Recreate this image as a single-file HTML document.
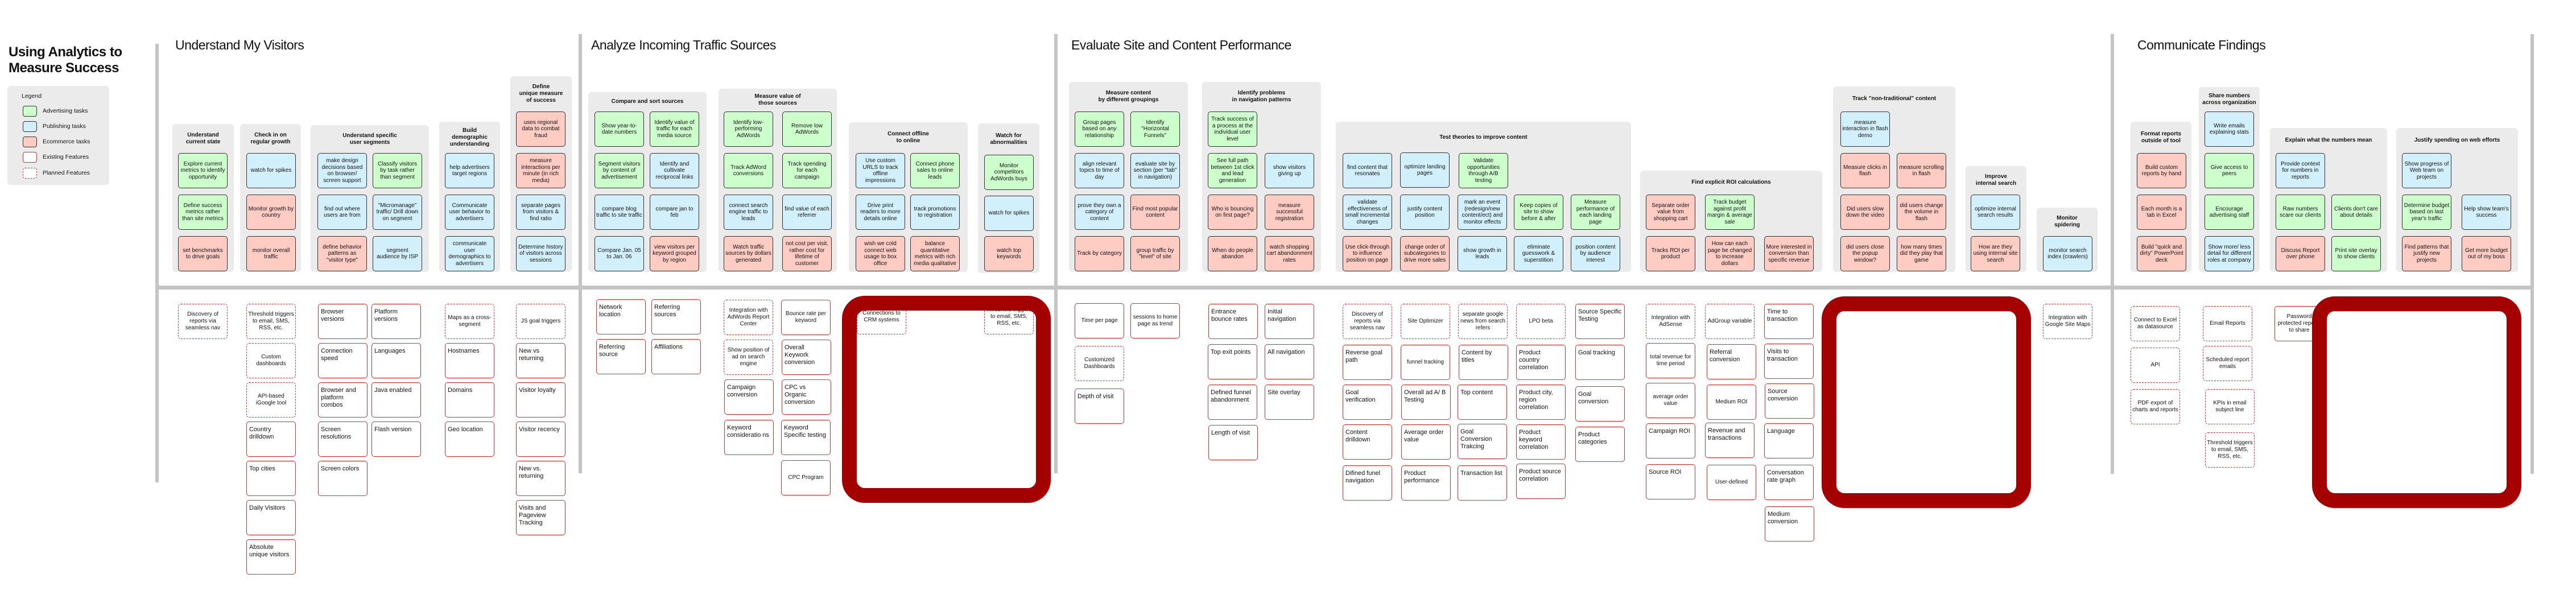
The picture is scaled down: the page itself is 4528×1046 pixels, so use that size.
<!DOCTYPE html>
<html><head><meta charset="utf-8">
<style>
*{box-sizing:border-box}
body{margin:0;width:4528px;height:1046px;background:#fff;position:relative;overflow:hidden;font-family:"Liberation Sans",sans-serif;color:#111}
.a{position:absolute}
.ln{position:absolute;background:#c4c4c4}
.st{position:absolute;font-size:23px;letter-spacing:-0.5px;top:66px;white-space:nowrap}
.gr{position:absolute;background:#ebebeb;border-radius:6px}
.gt{position:absolute;left:0;right:0;top:0;display:flex;align-items:center;justify-content:center;text-align:center;font-weight:bold;font-size:10px;line-height:12px;padding:0 3px}
.c{position:absolute;width:87px;height:62px;border:1.5px solid #333;border-radius:5px;display:flex;align-items:center;justify-content:center;text-align:center;font-size:10px;line-height:11.5px;padding:2px;overflow:hidden}
.G{background:#ccffcc}.B{background:#d2f0fc}.P{background:#ffccc4}
.e{position:absolute;width:87px;height:62px;border:1.5px solid #c33;border-radius:5px;background:#fff;font-size:11px;line-height:13px;padding:7px 4px;overflow:hidden}
.d{position:absolute;width:87px;height:62px;border:1.5px dashed #c33;border-radius:5px;background:#fff;font-size:10px;line-height:12px;padding:2px;display:flex;align-items:center;justify-content:center;text-align:center;overflow:hidden}
.ec{display:flex;align-items:center;justify-content:center;text-align:center;font-size:10px;line-height:12px;padding:2px}
.rb{position:absolute;border:26px solid #a50000;border-radius:40px;z-index:5}
.sw{position:absolute;left:40px;width:25px;height:19px;border:1.5px solid #333;border-radius:4px}
.lg{position:absolute;left:75px;font-size:10.5px}
</style></head><body>

<!-- left panel -->
<div class="a" style="left:15px;top:78px;font-size:24px;font-weight:bold;line-height:28px;letter-spacing:-0.5px">Using Analytics to<br>Measure Success</div>
<div class="gr" style="left:13px;top:151px;width:179px;height:174px"></div>
<div class="a" style="left:38px;top:163px;font-size:10.5px">Legend</div>
<div class="sw" style="top:186px;background:#ccffcc"></div><div class="lg" style="top:189px">Advertising tasks</div>
<div class="sw" style="top:213px;background:#d2f0fc"></div><div class="lg" style="top:216px">Publishing tasks</div>
<div class="sw" style="top:240px;background:#ffccc4"></div><div class="lg" style="top:243px">Ecommerce tasks</div>
<div class="sw" style="top:267px;background:#fff;border-color:#c33"></div><div class="lg" style="top:270px">Existing Features</div>
<div class="sw" style="top:295px;background:#fff;border:1.5px dashed #c33"></div><div class="lg" style="top:298px">Planned Features</div>

<!-- grid lines -->
<div class="ln" style="left:273px;top:77px;width:6px;height:771px"></div>
<div class="ln" style="left:1017px;top:60px;width:6px;height:772px"></div>
<div class="ln" style="left:1853px;top:60px;width:6px;height:772px"></div>
<div class="ln" style="left:3710px;top:60px;width:6px;height:773px"></div>
<div class="ln" style="left:4448px;top:60px;width:6px;height:773px"></div>
<div class="ln" style="left:276px;top:502px;width:4178px;height:7px"></div>

<!-- section titles -->
<div class="st" style="left:308px">Understand My Visitors</div>
<div class="st" style="left:1039px">Analyze Incoming Traffic Sources</div>
<div class="st" style="left:1883px">Evaluate Site and Content Performance</div>
<div class="st" style="left:3757px">Communicate Findings</div>

<!-- ===== Understand My Visitors ===== -->
<div class="gr" style="left:303px;top:218px;width:108px;height:260px"><div class="gt" style="height:51px">Understand<br>current state</div></div>
<div class="gr" style="left:422px;top:218px;width:107px;height:260px"><div class="gt" style="height:51px">Check in on<br>regular growth</div></div>
<div class="gr" style="left:546px;top:220px;width:208px;height:258px"><div class="gt" style="height:49px">Understand specific<br>user segments</div></div>
<div class="gr" style="left:772px;top:214px;width:107px;height:264px"><div class="gt" style="height:55px">Build<br>demographic<br>understanding</div></div>
<div class="gr" style="left:897px;top:134px;width:108px;height:344px"><div class="gt" style="height:62px">Define<br>unique measure<br>of success</div></div>

<div class="c G" style="left:313px;top:269px">Explore current metrics to identify opportunity</div>
<div class="c G" style="left:313px;top:342px">Define success metrics rather than site metrics</div>
<div class="c P" style="left:313px;top:415px">set benchmarks to drive goals</div>
<div class="c B" style="left:433px;top:269px">watch for spikes</div>
<div class="c P" style="left:433px;top:342px">Monitor growth by country</div>
<div class="c P" style="left:433px;top:415px">monitor overall traffic</div>
<div class="c B" style="left:558px;top:269px">make design decisions based on browser/ screen support</div>
<div class="c B" style="left:558px;top:342px">find out where users are from</div>
<div class="c P" style="left:558px;top:415px">define behavior patterns as "visitor type"</div>
<div class="c G" style="left:655px;top:269px">Classify visitors by task rather than segment</div>
<div class="c B" style="left:655px;top:342px">"Micromanage" traffic/ Drill down on segment</div>
<div class="c B" style="left:655px;top:415px">segment audience by ISP</div>
<div class="c B" style="left:782px;top:269px">help advertisers target regions</div>
<div class="c B" style="left:782px;top:342px">Communicate user behavior to advertisers</div>
<div class="c B" style="left:782px;top:415px">communicate user demographics to advertisers</div>
<div class="c P" style="left:907px;top:196px">uses regional data to combat fraud</div>
<div class="c P" style="left:907px;top:269px">measure interactions per minute (in rich media)</div>
<div class="c B" style="left:907px;top:342px">separate pages from visitors &amp; find ratio</div>
<div class="c B" style="left:907px;top:415px">Determine history of visitors across sessions</div>

<div class="d" style="left:313px;top:534px">Discovery of reports via seamless nav</div>
<div class="d" style="left:433px;top:534px">Threshold triggers to email, SMS, RSS, etc.</div>
<div class="d" style="left:433px;top:603px">Custom dashboards</div>
<div class="d" style="left:433px;top:672px">API-based iGoogle tool</div>
<div class="e" style="left:433px;top:741px">Country drilldown</div>
<div class="e" style="left:433px;top:810px">Top cities</div>
<div class="e" style="left:433px;top:879px">Daily Visitors</div>
<div class="e" style="left:433px;top:948px">Absolute unique visitors</div>
<div class="e" style="left:559px;top:534px">Browser versions</div>
<div class="e" style="left:559px;top:603px">Connection speed</div>
<div class="e" style="left:559px;top:672px">Browser and platform combos</div>
<div class="e" style="left:559px;top:741px">Screen resolutions</div>
<div class="e" style="left:559px;top:810px">Screen colors</div>
<div class="e" style="left:653px;top:534px">Platform versions</div>
<div class="e" style="left:653px;top:603px">Languages</div>
<div class="e" style="left:653px;top:672px">Java enabled</div>
<div class="e" style="left:653px;top:741px">Flash version</div>
<div class="d" style="left:782px;top:534px">Maps as a cross-segment</div>
<div class="e" style="left:782px;top:603px">Hostnames</div>
<div class="e" style="left:782px;top:672px">Domains</div>
<div class="e" style="left:782px;top:741px">Geo location</div>
<div class="d" style="left:907px;top:534px">JS goal triggers</div>
<div class="e" style="left:907px;top:603px">New vs returning</div>
<div class="e" style="left:907px;top:672px">Visitor loyalty</div>
<div class="e" style="left:907px;top:741px">Visitor recency</div>
<div class="e" style="left:907px;top:810px">New vs. returning</div>
<div class="e" style="left:907px;top:879px">Visits and Pageview Tracking</div>

<!-- ===== Analyze Incoming Traffic Sources ===== -->
<div class="gr" style="left:1034px;top:162px;width:208px;height:316px"><div class="gt" style="height:34px">Compare and sort sources</div></div>
<div class="gr" style="left:1263px;top:156px;width:208px;height:322px"><div class="gt" style="height:40px">Measure value of<br>those sources</div></div>
<div class="gr" style="left:1492px;top:215px;width:209px;height:263px"><div class="gt" style="height:54px">Connect offline<br>to online</div></div>
<div class="gr" style="left:1719px;top:217px;width:108px;height:263px"><div class="gt" style="height:55px">Watch for<br>abnormalities</div></div>

<div class="c G" style="left:1045px;top:196px">Show year-to-date numbers</div>
<div class="c G" style="left:1142px;top:196px">Identify value of traffic for each media source</div>
<div class="c G" style="left:1045px;top:269px">Segment visitors by content of advertisement</div>
<div class="c B" style="left:1142px;top:269px">Identify and cultivate reciprocal links</div>
<div class="c B" style="left:1045px;top:342px">compare blog traffic to site traffic</div>
<div class="c B" style="left:1142px;top:342px">compare jan to feb</div>
<div class="c B" style="left:1045px;top:415px">Compare Jan. 05 to Jan. 06</div>
<div class="c P" style="left:1142px;top:415px">view visitors per keyword grouped by region</div>
<div class="c G" style="left:1272px;top:196px">Identify low-performing AdWords</div>
<div class="c G" style="left:1375px;top:196px">Remove low AdWords</div>
<div class="c G" style="left:1272px;top:269px">Track AdWord conversions</div>
<div class="c G" style="left:1375px;top:269px">Track spending for each campaign</div>
<div class="c B" style="left:1272px;top:342px">connect search engine traffic to leads</div>
<div class="c B" style="left:1375px;top:342px">find value of each referrer</div>
<div class="c P" style="left:1272px;top:415px">Watch traffic sources by dollars generated</div>
<div class="c P" style="left:1375px;top:415px">not cost per visit. rather cost for lifetime of customer</div>
<div class="c B" style="left:1504px;top:269px">Use custom URLS to track offline impressions</div>
<div class="c G" style="left:1600px;top:269px">Connect phone sales to online leads</div>
<div class="c B" style="left:1504px;top:342px">Drive print readers to more details online</div>
<div class="c B" style="left:1600px;top:342px">track promotions to registration</div>
<div class="c P" style="left:1504px;top:415px">wish we cold connect web usage to box office</div>
<div class="c P" style="left:1600px;top:415px">balance quantitative metrics with rich media qualitative</div>
<div class="c G" style="left:1730px;top:272px">Monitor competitors AdWords buys</div>
<div class="c B" style="left:1730px;top:344px">watch for spikes</div>
<div class="c P" style="left:1730px;top:415px">watch top keywords</div>

<div class="e" style="left:1048px;top:526px">Network location</div>
<div class="e" style="left:1048px;top:596px">Referring source</div>
<div class="e" style="left:1145px;top:526px">Referring sources</div>
<div class="e" style="left:1145px;top:596px">Affiliations</div>
<div class="d" style="left:1272px;top:527px">Integration with AdWords Report Center</div>
<div class="d" style="left:1272px;top:597px">Show position of ad on search engine</div>
<div class="e" style="left:1273px;top:667px">Campaign conversion</div>
<div class="e" style="left:1273px;top:738px">Keyword consideratio ns</div>
<div class="e ec" style="left:1373px;top:527px">Bounce rate per keyword</div>
<div class="e" style="left:1374px;top:597px">Overall Keywork conversion</div>
<div class="e" style="left:1374px;top:667px">CPC vs Organic conversion</div>
<div class="e" style="left:1373px;top:738px">Keyword Specific testing</div>
<div class="e ec" style="left:1373px;top:809px">CPC Program</div>
<div class="d" style="left:1506px;top:526px">Connections to CRM systems</div>
<div class="d" style="left:1730px;top:526px">Threshold triggers to email, SMS, RSS, etc.</div>
<div class="rb" style="left:1480px;top:520px;width:367px;height:364px"></div>

<!-- ===== Evaluate Site and Content Performance ===== -->
<div class="gr" style="left:1879px;top:144px;width:209px;height:334px"><div class="gt" style="height:52px">Measure content<br>by different groupings</div></div>
<div class="gr" style="left:2113px;top:144px;width:209px;height:334px"><div class="gt" style="height:52px">Identify problems<br>in navigation patterns</div></div>
<div class="gr" style="left:2348px;top:214px;width:519px;height:264px"><div class="gt" style="height:55px">Test theories to improve content</div></div>
<div class="gr" style="left:2883px;top:300px;width:320px;height:178px"><div class="gt" style="height:42px">Find explicit ROI calculations</div></div>
<div class="gr" style="left:3222px;top:152px;width:215px;height:326px"><div class="gt" style="height:44px">Track "non-traditional" content</div></div>
<div class="gr" style="left:3455px;top:292px;width:107px;height:186px"><div class="gt" style="height:50px">Improve<br>internal search</div></div>
<div class="gr" style="left:3580px;top:365px;width:107px;height:113px"><div class="gt" style="height:50px">Monitor<br>spidering</div></div>

<div class="c G" style="left:1889px;top:196px"><span>Group pages based on <i>any</i> relationship</span></div>
<div class="c G" style="left:1987px;top:196px">Identify "Horizontal Funnels"</div>
<div class="c B" style="left:1889px;top:269px">align relevant topics to time of day</div>
<div class="c B" style="left:1987px;top:269px">evaluate site by section (per "tab" in navigation)</div>
<div class="c B" style="left:1889px;top:342px">prove they own a category of content</div>
<div class="c P" style="left:1987px;top:342px">Find most popular content</div>
<div class="c P" style="left:1889px;top:415px">Track by category</div>
<div class="c P" style="left:1987px;top:415px">group traffic by "level" of site</div>
<div class="c G" style="left:2123px;top:196px">Track success of a process at the individual user level</div>
<div class="c G" style="left:2123px;top:269px">See full path between 1st click and lead generation</div>
<div class="c B" style="left:2223px;top:269px">show visitors giving up</div>
<div class="c P" style="left:2123px;top:342px">Who is bouncing on first page?</div>
<div class="c P" style="left:2223px;top:342px">measure successful registration</div>
<div class="c P" style="left:2123px;top:415px">When do people abandon</div>
<div class="c P" style="left:2223px;top:415px">watch shopping cart abandonment rates</div>
<div class="c B" style="left:2360px;top:269px">find content that resonates</div>
<div class="c B" style="left:2461px;top:268px">optimize landing pages</div>
<div class="c G" style="left:2564px;top:269px">Validate opportunities through A/B testing</div>
<div class="c B" style="left:2360px;top:342px">validate effectiveness of small incremental changes</div>
<div class="c B" style="left:2461px;top:342px">justify content position</div>
<div class="c B" style="left:2562px;top:342px">mark an event (redesign/new content/ect) and monitor effects</div>
<div class="c G" style="left:2661px;top:342px">Keep copies of site to show before &amp; after</div>
<div class="c G" style="left:2761px;top:342px">Measure performance of each landing page</div>
<div class="c P" style="left:2360px;top:415px">Use click-through to influence position on page</div>
<div class="c P" style="left:2461px;top:415px">change order of subcategories to drive more sales</div>
<div class="c B" style="left:2562px;top:415px">show growth in leads</div>
<div class="c B" style="left:2661px;top:415px">eliminate guesswork &amp; superstition</div>
<div class="c B" style="left:2761px;top:415px">position content by audience interest</div>
<div class="c P" style="left:2893px;top:342px">Separate order value from shopping cart</div>
<div class="c G" style="left:2997px;top:342px">Track budget against profit margin &amp; average sale</div>
<div class="c P" style="left:2893px;top:415px">Tracks ROI per product</div>
<div class="c P" style="left:2997px;top:415px">How can each page be changed to increase dollars</div>
<div class="c P" style="left:3101px;top:415px">More interested in conversion than specific revenue</div>
<div class="c B" style="left:3235px;top:196px">measure interaction in flash demo</div>
<div class="c P" style="left:3235px;top:269px">Measure clicks in flash</div>
<div class="c P" style="left:3334px;top:269px">measure scrolling in flash</div>
<div class="c P" style="left:3235px;top:342px">Did users slow down the video</div>
<div class="c P" style="left:3334px;top:342px">did users change the volume in flash</div>
<div class="c P" style="left:3235px;top:415px">did users close the popup window?</div>
<div class="c P" style="left:3334px;top:415px">how many times did they play that game</div>
<div class="c B" style="left:3464px;top:342px">optimize internal search results</div>
<div class="c P" style="left:3464px;top:415px">How are they using internal site search</div>
<div class="c B" style="left:3591px;top:415px">monitor search index (crawlers)</div>

<div class="e ec" style="left:1889px;top:533px">Time per page</div>
<div class="d" style="left:1889px;top:608px">Customized Dashboards</div>
<div class="e" style="left:1889px;top:683px">Depth of visit</div>
<div class="e ec" style="left:1987px;top:533px">sessions to home page as trend</div>
<div class="e" style="left:2124px;top:534px">Entrance bounce rates</div>
<div class="e" style="left:2123px;top:605px">Top exit points</div>
<div class="e" style="left:2123px;top:676px">Defined funnel abandonment</div>
<div class="e" style="left:2124px;top:747px">Length of visit</div>
<div class="e" style="left:2223px;top:534px">Initial navigation</div>
<div class="e" style="left:2223px;top:605px">All navigation</div>
<div class="e" style="left:2223px;top:676px">Site overlay</div>
<div class="d" style="left:2360px;top:534px">Discovery of reports via seamless nav</div>
<div class="e" style="left:2360px;top:606px">Reverse goal path</div>
<div class="e" style="left:2360px;top:676px">Goal verification</div>
<div class="e" style="left:2360px;top:746px">Content drilldown</div>
<div class="e" style="left:2360px;top:818px">Difined funel navigation</div>
<div class="d" style="left:2462px;top:534px">Site Optimizer</div>
<div class="e ec" style="left:2462px;top:606px">funnel tracking</div>
<div class="e" style="left:2463px;top:676px">Overall ad A/ B Testing</div>
<div class="e" style="left:2463px;top:746px">Average order value</div>
<div class="e" style="left:2463px;top:818px">Product performance</div>
<div class="d" style="left:2563px;top:534px">separate google news from search refers</div>
<div class="e" style="left:2564px;top:606px">Content by titles</div>
<div class="e" style="left:2562px;top:676px">Top content</div>
<div class="e" style="left:2562px;top:745px">Goal Conversion Trakcing</div>
<div class="e" style="left:2562px;top:818px">Transaction list</div>
<div class="d" style="left:2665px;top:534px">LPO beta</div>
<div class="e" style="left:2665px;top:606px">Product country correlation</div>
<div class="e" style="left:2665px;top:676px">Product city, region correlation</div>
<div class="e" style="left:2665px;top:746px">Product keyword correlation</div>
<div class="e" style="left:2665px;top:815px">Product source correlation</div>
<div class="e" style="left:2769px;top:534px">Source Specific Testing</div>
<div class="e" style="left:2769px;top:606px">Goal tracking</div>
<div class="e" style="left:2769px;top:679px">Goal conversion</div>
<div class="e" style="left:2769px;top:750px">Product categories</div>
<div class="d" style="left:2893px;top:534px">Integration with AdSense</div>
<div class="e ec" style="left:2893px;top:603px">total revenue for time period</div>
<div class="e ec" style="left:2893px;top:673px">average order value</div>
<div class="e" style="left:2893px;top:744px">Campaign ROI</div>
<div class="e" style="left:2893px;top:816px">Source ROI</div>
<div class="d" style="left:2997px;top:534px">AdGroup variable</div>
<div class="e" style="left:3000px;top:605px">Referral conversion</div>
<div class="e ec" style="left:3000px;top:676px">Medium ROI</div>
<div class="e" style="left:2997px;top:743px">Revenue and transactions</div>
<div class="e ec" style="left:3000px;top:817px">User-defined</div>
<div class="e" style="left:3101px;top:534px">Time to transaction</div>
<div class="e" style="left:3101px;top:604px">Visits to transaction</div>
<div class="e" style="left:3102px;top:674px">Source conversion</div>
<div class="e" style="left:3101px;top:744px">Language</div>
<div class="e" style="left:3101px;top:817px">Conversation rate graph</div>
<div class="e" style="left:3102px;top:890px">Medium conversion</div>
<div class="rb" style="left:3202px;top:521px;width:368px;height:372px"></div>
<div class="d" style="left:3591px;top:534px">Integration with Google Site Maps</div>

<!-- ===== Communicate Findings ===== -->
<div class="gr" style="left:3745px;top:214px;width:107px;height:264px"><div class="gt" style="height:55px">Format reports<br>outside of tool</div></div>
<div class="gr" style="left:3865px;top:153px;width:107px;height:325px"><div class="gt" style="height:43px">Share numbers<br>across organization</div></div>
<div class="gr" style="left:3990px;top:225px;width:206px;height:253px"><div class="gt" style="height:44px">Explain what the numbers mean</div></div>
<div class="gr" style="left:4212px;top:225px;width:214px;height:253px"><div class="gt" style="height:44px">Justify spending on web efforts</div></div>

<div class="c P" style="left:3756px;top:269px">Build custom reports by hand</div>
<div class="c P" style="left:3756px;top:342px">Each month is a tab in Excel</div>
<div class="c P" style="left:3756px;top:415px">Build "quick and dirty" PowerPoint deck</div>
<div class="c B" style="left:3875px;top:196px">Write emails explaining stats</div>
<div class="c G" style="left:3875px;top:269px">Give access to peers</div>
<div class="c G" style="left:3875px;top:342px">Encourage advertising staff</div>
<div class="c B" style="left:3875px;top:415px">Show more/ less detail for different roles at company</div>
<div class="c B" style="left:4000px;top:269px">Provide context for numbers in reports</div>
<div class="c G" style="left:4000px;top:342px">Raw numbers scare our clients</div>
<div class="c G" style="left:4098px;top:342px">Clients don't care about details</div>
<div class="c P" style="left:4000px;top:415px">Discuss Report over phone</div>
<div class="c G" style="left:4098px;top:415px">Print site overlay to show clients</div>
<div class="c B" style="left:4222px;top:269px">Show progress of Web team on projects</div>
<div class="c G" style="left:4222px;top:342px">Determine budget based on last year's traffic</div>
<div class="c B" style="left:4327px;top:342px">Help show team's success</div>
<div class="c P" style="left:4222px;top:415px">Find patterns that justify new projects</div>
<div class="c P" style="left:4327px;top:415px">Get more budget out of my boss</div>

<div class="d" style="left:3745px;top:538px">Connect to Excel as datasource</div>
<div class="d" style="left:3745px;top:611px">API</div>
<div class="d" style="left:3745px;top:684px">PDF export of charts and reports</div>
<div class="d" style="left:3872px;top:538px">Email Reports</div>
<div class="d" style="left:3872px;top:608px">Scheduled report emails</div>
<div class="d" style="left:3876px;top:684px">KPIs in email subject line</div>
<div class="d" style="left:3876px;top:760px">Threshold triggers to email, SMS, RSS, etc.</div>
<div class="e ec" style="left:3998px;top:538px">Password protected reports to share</div>
<div class="rb" style="left:4064px;top:521px;width:368px;height:372px"></div>

</body></html>
